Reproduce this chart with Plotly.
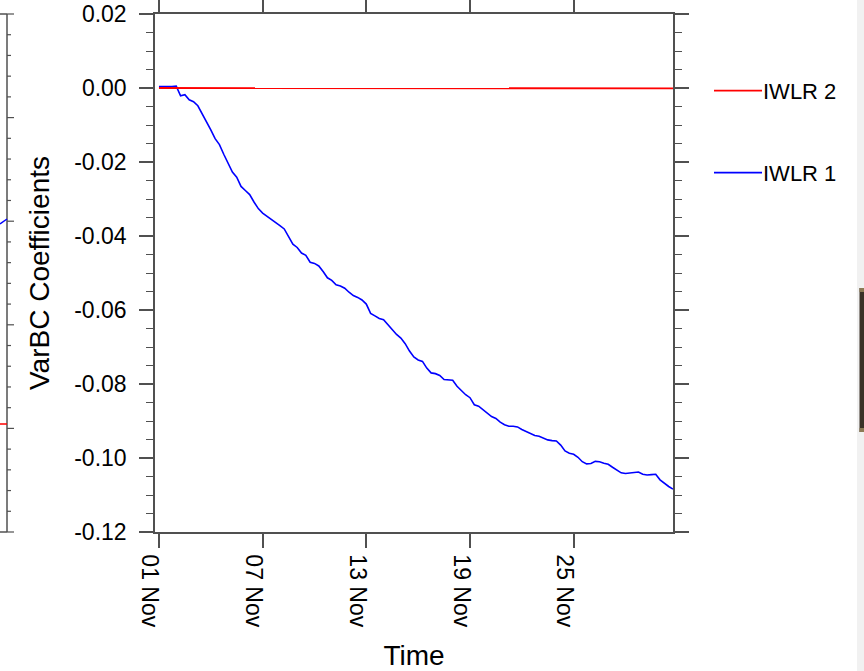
import pandas as pd
import plotly.graph_objects as go

# ---- data -----------------------------------------------------------------
# 6-hourly analysis times, 01 Nov 00Z .. 30 Nov 18Z
times = pd.date_range("2019-11-01 00:00", periods=120, freq="6h")

# VarBC coefficient, predictor IWLR 1
iwlr1 = [
    0.0004, 0.0005, 0.0004, 0.0004, 0.0005, -0.0021, -0.0018, -0.0032, -0.0037, -0.0048,
    -0.0069, -0.0094, -0.0113, -0.0137, -0.0153, -0.0179, -0.0202, -0.0227, -0.0241, -0.0266,
    -0.0277, -0.0288, -0.0308, -0.0326, -0.0338, -0.0346, -0.0356, -0.0363, -0.0372, -0.0381,
    -0.0401, -0.0422, -0.0431, -0.0446, -0.0452, -0.0471, -0.0474, -0.0481, -0.0496, -0.0513,
    -0.0520, -0.0532, -0.0535, -0.0541, -0.0552, -0.0561, -0.0566, -0.0573, -0.0584, -0.0609,
    -0.0616, -0.0623, -0.0626, -0.0640, -0.0655, -0.0666, -0.0676, -0.0691, -0.0711, -0.0727,
    -0.0735, -0.0739, -0.0757, -0.0770, -0.0772, -0.0777, -0.0788, -0.0788, -0.0790, -0.0806,
    -0.0819, -0.0829, -0.0837, -0.0856, -0.0860, -0.0869, -0.0878, -0.0888, -0.0893, -0.0903,
    -0.0910, -0.0914, -0.0914, -0.0916, -0.0923, -0.0929, -0.0935, -0.0939, -0.0941, -0.0947,
    -0.0951, -0.0953, -0.0954, -0.0965, -0.0981, -0.0987, -0.0990, -0.0998, -0.1010, -0.1016,
    -0.1015, -0.1009, -0.1010, -0.1014, -0.1017, -0.1025, -0.1032, -0.1040, -0.1042, -0.1041,
    -0.1041, -0.1038, -0.1044, -0.1046, -0.1045, -0.1044, -0.1059, -0.1069, -0.1077, -0.1084,
]

# VarBC coefficient, predictor IWLR 2 (stays at about zero)
iwlr2 = [
    0.0000, 0.0000, 0.0000, -0.0001, -0.0001, -0.0001, -0.0001, -0.0001, -0.0001, -0.0001,
    -0.0001, -0.0001, -0.0001, -0.0001, -0.0001, -0.0001, -0.0001, -0.0001, -0.0001, -0.0001,
    -0.0001, -0.0001, -0.0001, -0.0001, -0.0001, -0.0001, -0.0001, -0.0001, -0.0001, -0.0001,
    -0.0001, -0.0001, -0.0001, -0.0001, -0.0001, -0.0001, -0.0001, -0.0001, -0.0001, -0.0001,
    -0.0001, -0.0001, -0.0001, -0.0001, -0.0001, -0.0001, -0.0001, -0.0001, -0.0001, -0.0001,
    -0.0001, -0.0001, -0.0001, -0.0001, -0.0001, -0.0001, -0.0001, -0.0001, -0.0001, -0.0001,
    -0.0001, -0.0001, -0.0001, -0.0001, -0.0001, -0.0001, -0.0001, -0.0001, -0.0001, -0.0001,
    -0.0001, -0.0001, -0.0001, -0.0001, -0.0001, -0.0001, -0.0001, -0.0001, -0.0001, -0.0001,
    -0.0001, -0.0001, -0.0001, -0.0001, -0.0001, -0.0001, -0.0001, -0.0001, -0.0001, -0.0001,
    -0.0001, -0.0001, -0.0001, -0.0001, -0.0001, -0.0001, -0.0001, -0.0001, -0.0001, -0.0001,
    -0.0001, -0.0001, -0.0001, -0.0001, -0.0001, -0.0001, -0.0001, -0.0001, -0.0001, -0.0001,
    -0.0001, -0.0001, -0.0001, -0.0001, -0.0001, -0.0001, -0.0001, -0.0001, -0.0001, -0.0001,
]

series_names = ["IWLR 2", "IWLR 1"]

x_tick_dates = ["2019-11-01", "2019-11-07", "2019-11-13", "2019-11-19", "2019-11-25"]
x_tick_labels = ["01 Nov", "07 Nov", "13 Nov", "19 Nov", "25 Nov"]

y_tick_vals = [-0.12, -0.10, -0.08, -0.06, -0.04, -0.02, 0.00, 0.02]
y_tick_labels = ["-0.12", "-0.10", "-0.08", "-0.06", "-0.04", "-0.02", "0.00", "0.02"]

# ---- page geometry ----------------------------------------------------------
W, H = 864, 671
L, R, T, B = 155, 191, 14, 139
PW, PH = W - L - R, H - T - B

FONT = "Liberation Sans, Arial, Helvetica, sans-serif"
AXC = "#505050"
RED = "#ff0000"
BLUE = "#0000ff"


def px(xp):
    """page pixel column -> paper x"""
    return (xp - L) / PW


def py(yp):
    """page pixel row -> paper y"""
    return 1 - (yp - T) / PH


fig = go.Figure()
fig.add_trace(go.Scatter(x=times, y=iwlr1, mode="lines", name=series_names[1],
                         line=dict(color=BLUE, width=1.6)))
fig.add_trace(go.Scatter(x=times, y=iwlr2, mode="lines", name=series_names[0],
                         line=dict(color=RED, width=1.8)))

axis_common = dict(
    showline=True, linecolor=AXC, linewidth=1.5, mirror="ticks",
    ticks="outside", ticklen=14, tickwidth=1.5, tickcolor=AXC,
    showgrid=False, zeroline=False, automargin=False,
    tickfont=dict(family=FONT, size=23, color="black"),
)

fig.update_xaxes(
    type="date",
    range=["2019-10-31 18:30", "2019-11-30 18:00"],
    tickmode="array", tickvals=x_tick_dates, ticktext=x_tick_labels,
    tickangle=90, ticklabelshift=-9, ticklabelstandoff=2,
    title=dict(text="Time", font=dict(family=FONT, size=28, color="black"), standoff=22),
    **axis_common,
)
fig.update_yaxes(
    range=[-0.12, 0.02],
    tickmode="array", tickvals=y_tick_vals, ticktext=y_tick_labels,
    ticklabelstandoff=8,
    minor=dict(ticks="outside", ticklen=7, tickwidth=1.2, tickcolor=AXC, dtick=0.005,
               tick0=0.0, showgrid=False),
    title=dict(text="VarBC Coefficients", font=dict(family=FONT, size=28, color="black"),
               standoff=16),
    **axis_common,
)

# legend drawn beside the frame: short line + label per series
shapes = []
annotations = []
legend_rows = [(series_names[0], RED, 90.7), (series_names[1], BLUE, 172.7)]
for name, col, row in legend_rows:
    shapes.append(dict(type="line", xref="paper", yref="paper",
                       x0=px(714), x1=px(762), y0=py(row), y1=py(row),
                       line=dict(color=col, width=1.8)))
    annotations.append(dict(xref="paper", yref="paper", x=px(761), y=py(row + 1),
                            xanchor="left", yanchor="middle", showarrow=False,
                            text=name, font=dict(family=FONT, size=22, color="black")))

# edge of the neighbouring panel on the left
shapes.append(dict(type="line", xref="paper", yref="paper", x0=px(7), x1=px(7),
                   y0=py(14), y1=py(532), line=dict(color=AXC, width=1.5)))
shapes.append(dict(type="line", xref="paper", yref="paper", x0=px(0), x1=px(7),
                   y0=py(14), y1=py(14), line=dict(color=AXC, width=1.5)))
shapes.append(dict(type="line", xref="paper", yref="paper", x0=px(0), x1=px(7),
                   y0=py(532), y1=py(532), line=dict(color=AXC, width=1.5)))
n_side_ticks = 25
for k in range(n_side_ticks + 1):
    yy = 14 + k * (532 - 14) / n_side_ticks
    ln = 7 if k % 5 == 0 else 4
    shapes.append(dict(type="line", xref="paper", yref="paper", x0=px(7), x1=px(7 + ln),
                       y0=py(yy), y1=py(yy), line=dict(color=AXC, width=1.2)))
shapes.append(dict(type="line", xref="paper", yref="paper", x0=px(0), x1=px(7),
                   y0=py(224), y1=py(219), line=dict(color=BLUE, width=1.5)))
shapes.append(dict(type="line", xref="paper", yref="paper", x0=px(0), x1=px(7),
                   y0=py(424), y1=py(424), line=dict(color=RED, width=1.5)))

# strip of the neighbouring image on the right
shapes.append(dict(type="rect", xref="paper", yref="paper", x0=px(857), x1=px(864),
                   y0=py(0), y1=py(671), fillcolor="#f1f1f1", line=dict(width=0),
                   layer="below"))
shapes.append(dict(type="rect", xref="paper", yref="paper", x0=px(859.5), x1=px(864),
                   y0=py(288), y1=py(432), fillcolor="#3a3126", line=dict(width=0)))
shapes.append(dict(type="rect", xref="paper", yref="paper", x0=px(859.5), x1=px(864),
                   y0=py(288), y1=py(292), fillcolor="#8c7a55", line=dict(width=0)))
shapes.append(dict(type="rect", xref="paper", yref="paper", x0=px(859.5), x1=px(864),
                   y0=py(428), y1=py(432), fillcolor="#8c7a55", line=dict(width=0)))

fig.update_layout(
    width=W, height=H,
    margin=dict(l=L, r=R, t=T, b=B, pad=0),
    paper_bgcolor="white", plot_bgcolor="white",
    showlegend=False,
    shapes=shapes, annotations=annotations,
    font=dict(family=FONT, color="black"),
)

fig.write_html("out.html")
